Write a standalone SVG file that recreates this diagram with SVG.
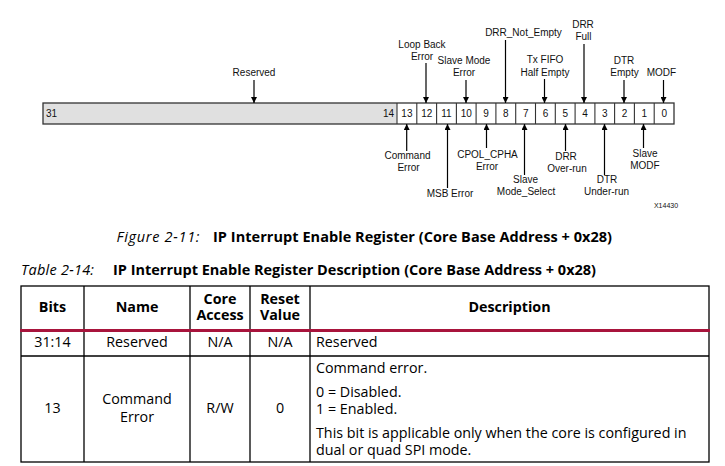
<svg xmlns="http://www.w3.org/2000/svg" width="725" height="466" viewBox="0 0 725 466">
<defs>
<marker id="ah" viewBox="0 0 6 6" refX="6" refY="3" markerWidth="6" markerHeight="6" markerUnits="userSpaceOnUse" orient="auto">
<path d="M0,0 L6,3 L0,6 Z" fill="#000"/>
</marker>
<style>
.lbl{font-family:"Liberation Sans",Arial,sans-serif;font-size:10px;fill:#111;text-anchor:middle}
.num{font-family:"Liberation Sans",Arial,sans-serif;font-size:10px;fill:#111;text-anchor:middle}
.ar{stroke:#000;stroke-width:1.2;fill:none;marker-end:url(#ah)}
.cap{font-family:"Open Sans","Noto Sans",sans-serif;font-size:14.5px;fill:#000}
.it{font-style:italic}
.b{font-weight:bold}
.th{font-family:"Open Sans","Noto Sans",sans-serif;font-size:14.3px;font-weight:bold;fill:#000;text-anchor:middle}
.td{font-family:"Open Sans","Noto Sans",sans-serif;font-size:14.3px;fill:#000}
.c{text-anchor:middle}
.grid{stroke:#000;stroke-width:1.3;fill:none}
</style>
</defs>
<rect width="725" height="466" fill="#fff"/>

<g id="register">
<rect x="43" y="103" width="354" height="21" fill="#e0e0e0"/>
<rect x="43" y="103" width="631" height="21" fill="none" stroke="#333" stroke-width="1.3"/>
<g stroke="#333" stroke-width="1.1">
<line x1="397" y1="103" x2="397" y2="124"/>
<line x1="416.8" y1="103" x2="416.8" y2="124"/>
<line x1="436.6" y1="103" x2="436.6" y2="124"/>
<line x1="456.4" y1="103" x2="456.4" y2="124"/>
<line x1="476.1" y1="103" x2="476.1" y2="124"/>
<line x1="495.9" y1="103" x2="495.9" y2="124"/>
<line x1="515.7" y1="103" x2="515.7" y2="124"/>
<line x1="535.5" y1="103" x2="535.5" y2="124"/>
<line x1="555.3" y1="103" x2="555.3" y2="124"/>
<line x1="575.1" y1="103" x2="575.1" y2="124"/>
<line x1="594.9" y1="103" x2="594.9" y2="124"/>
<line x1="614.6" y1="103" x2="614.6" y2="124"/>
<line x1="634.4" y1="103" x2="634.4" y2="124"/>
<line x1="654.2" y1="103" x2="654.2" y2="124"/>
</g>
<text class="num" x="46" y="117" style="text-anchor:start">31</text>
<text class="num" x="394" y="117" style="text-anchor:end">14</text>
<text class="num" x="406.9" y="117">13</text>
<text class="num" x="426.7" y="117">12</text>
<text class="num" x="446.5" y="117">11</text>
<text class="num" x="466.3" y="117">10</text>
<text class="num" x="486.1" y="117">9</text>
<text class="num" x="505.9" y="117">8</text>
<text class="num" x="525.7" y="117">7</text>
<text class="num" x="545.5" y="117">6</text>
<text class="num" x="565.3" y="117">5</text>
<text class="num" x="585.1" y="117">4</text>
<text class="num" x="604.9" y="117">3</text>
<text class="num" x="624.6" y="117">2</text>
<text class="num" x="644.4" y="117">1</text>
<text class="num" x="664.2" y="117">0</text>
</g>

<g id="connectors">
<line class="ar" x1="254" y1="80" x2="254" y2="103"/>
<line class="ar" x1="426" y1="63" x2="426" y2="103"/>
<line class="ar" x1="466" y1="80" x2="466" y2="103"/>
<line class="ar" x1="505.5" y1="40" x2="505.5" y2="103"/>
<line class="ar" x1="544.5" y1="79" x2="544.5" y2="103"/>
<line class="ar" x1="584" y1="44" x2="584" y2="103"/>
<line class="ar" x1="624" y1="80" x2="624" y2="103"/>
<line class="ar" x1="663.5" y1="80" x2="663.5" y2="103"/>
<line class="ar" x1="406.7" y1="151" x2="406.7" y2="124"/>
<line class="ar" x1="447.5" y1="188" x2="447.5" y2="124"/>
<line class="ar" x1="486.5" y1="148" x2="486.5" y2="124"/>
<line class="ar" x1="524.5" y1="175" x2="524.5" y2="124"/>
<line class="ar" x1="565.5" y1="151" x2="565.5" y2="124"/>
<line class="ar" x1="604.5" y1="175" x2="604.5" y2="124"/>
<line class="ar" x1="643.5" y1="148" x2="643.5" y2="124"/>
</g>

<g id="labels-top">
<text class="lbl" x="254" y="76">Reserved</text>
<text class="lbl" x="422" y="48">Loop Back</text>
<text class="lbl" x="422" y="60">Error</text>
<text class="lbl" x="464" y="64">Slave Mode</text>
<text class="lbl" x="464" y="76">Error</text>
<text class="lbl" x="523.5" y="36">DRR_Not_Empty</text>
<text class="lbl" x="545" y="63">Tx FIFO</text>
<text class="lbl" x="545" y="76">Half Empty</text>
<text class="lbl" x="583" y="28">DRR</text>
<text class="lbl" x="583.5" y="40">Full</text>
<text class="lbl" x="624" y="64">DTR</text>
<text class="lbl" x="624.5" y="76">Empty</text>
<text class="lbl" x="661.5" y="76">MODF</text>
</g>

<g id="labels-bottom">
<text class="lbl" x="407.5" y="159">Command</text>
<text class="lbl" x="408.5" y="171">Error</text>
<text class="lbl" x="450" y="197">MSB Error</text>
<text class="lbl" x="487.5" y="158">CPOL_CPHA</text>
<text class="lbl" x="487" y="170">Error</text>
<text class="lbl" x="525.5" y="183">Slave</text>
<text class="lbl" x="526" y="195">Mode_Select</text>
<text class="lbl" x="566" y="160">DRR</text>
<text class="lbl" x="567" y="172">Over-run</text>
<text class="lbl" x="607" y="183">DTR</text>
<text class="lbl" x="606.5" y="195">Under-run</text>
<text class="lbl" x="645" y="157">Slave</text>
<text class="lbl" x="645" y="169">MODF</text>
<text x="666" y="208" style="font-family:'Liberation Sans',Arial,sans-serif;font-size:7px;fill:#111;text-anchor:middle">X14430</text>
</g>

<g id="figure-caption">
<text class="cap it" x="116.5" y="241.5" textLength="83" lengthAdjust="spacing">Figure 2-11:</text>
<text class="cap b" x="213" y="241.5" textLength="399" lengthAdjust="spacing">IP Interrupt Enable Register (Core Base Address + 0x28)</text>
</g>

<g id="table-title">
<text class="cap it" x="21" y="274.5" textLength="73" lengthAdjust="spacing">Table 2-14:</text>
<text class="cap b" x="113" y="274.5" textLength="483" lengthAdjust="spacing">IP Interrupt Enable Register Description (Core Base Address + 0x28)</text>
</g>

<g id="table">
<rect class="grid" x="21" y="286" width="688" height="176"/>
<line class="grid" x1="84" y1="286" x2="84" y2="462"/>
<line class="grid" x1="190" y1="286" x2="190" y2="462"/>
<line class="grid" x1="250" y1="286" x2="250" y2="462"/>
<line class="grid" x1="310" y1="286" x2="310" y2="462"/>
<line class="grid" x1="21" y1="356" x2="709" y2="356"/>
<line x1="20" y1="330.5" x2="710" y2="330.5" stroke="#a8143c" stroke-width="3"/>
<text class="th" x="52.5" y="312">Bits</text>
<text class="th" x="137" y="312">Name</text>
<text class="th" x="220" y="304">Core</text>
<text class="th" x="220" y="320">Access</text>
<text class="th" x="280" y="304">Reset</text>
<text class="th" x="280" y="320">Value</text>
<text class="th" x="509.5" y="312">Description</text>
<text class="td c" x="52.5" y="347">31:14</text>
<text class="td c" x="137" y="347">Reserved</text>
<text class="td c" x="220" y="347">N/A</text>
<text class="td c" x="280" y="347">N/A</text>
<text class="td" x="316" y="347">Reserved</text>
<text class="td c" x="52.5" y="413">13</text>
<text class="td c" x="137" y="404">Command</text>
<text class="td c" x="137" y="422">Error</text>
<text class="td c" x="220" y="413">R/W</text>
<text class="td c" x="280" y="413">0</text>
<text class="td" x="316" y="373">Command error.</text>
<text class="td" x="316" y="397">0 = Disabled.</text>
<text class="td" x="316" y="414">1 = Enabled.</text>
<text class="td" x="316" y="438">This bit is applicable only when the core is configured in</text>
<text class="td" x="316" y="455">dual or quad SPI mode.</text>
</g>
</svg>
